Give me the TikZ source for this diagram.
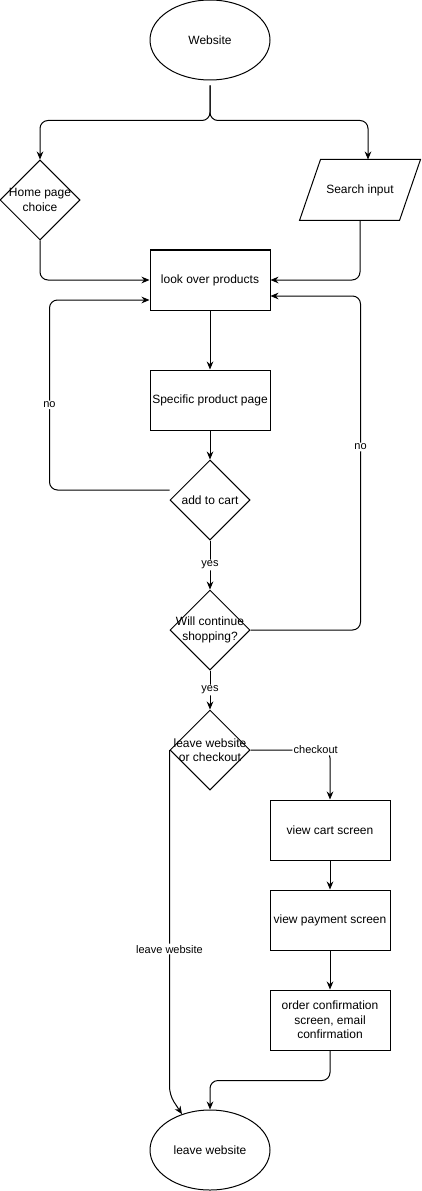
\documentclass[tikz,border=0pt]{standalone}
\usepackage{fontspec}
\setmainfont{Liberation Sans}
\usetikzlibrary{arrows.meta, positioning, shapes, calc}

\begin{document}
\begin{tikzpicture}[
    x=0.75pt, y=-0.75pt,
    line width=0.75pt,
    every node/.style={font=\fontsize{9}{10.8}\selectfont},
    terminal/.style={ellipse, draw=black, minimum width=90pt, minimum height=60pt},
    process/.style={rectangle, draw=black, minimum width=90pt, minimum height=45pt, align=center, inner sep=1pt},
    decision/.style={diamond, draw=black, minimum size=60pt, inner sep=-10pt, align=center},
    inout/.style={rectangle, minimum width=90pt, minimum height=45pt},
    arrow/.style={-{Stealth[length=6pt, width=5pt]}, rounded corners=6pt},
    edgelabel/.style={fill=white, inner sep=1pt, font=\fontsize{8.25}{9.9}\selectfont}
]
\useasboundingbox (0,0) rectangle (421,1191);

% Shapes
\node[terminal] (web) at (210,40) {Website};
\node[decision] (home) at (40,200) {Home page\\choice};
\node[inout] (search) at (360,190) {Search input};
\draw (search.south west) -- ++(100,0) -- (search.north east) -- ++(-100,0) -- cycle;
\node[process] (look) at (210,280) {look over products};
\node[process] (spec) at (210,400) {Specific product page};
\node[decision] (cart) at (210,500) {add to cart};
\node[decision] (cont) at (210,630) {Will continue\\shopping?};
\node[decision] (leave) at (210,750) {leave website\\or checkout};
\node[process] (viewcart) at (330,830) {view cart screen};
\node[process] (pay) at (330,920) {view payment screen};
\node[process] (order) at (330,1020) {order confirmation\\screen, email\\confirmation};
\node[terminal] (exit) at (210,1150) {leave website};

% Entry branches
\draw[arrow, shorten <=3.75pt] (web.south) -- ++(0,40) -| ($(home.north)$);
\draw[arrow, shorten <=3.75pt] (web.south) -- ++(0,40) -| ($(search.north)+(8,0)$);
\draw[arrow] (home.south) |- (look.west);
\draw[arrow] (search.south) |- (look.east);

% Main column
\draw[arrow] (look) -- (spec);
\draw[arrow] (spec) -- (cart);
\draw[arrow] (cart) -- (cont) node[midway, edgelabel] {yes};
\draw[arrow] (cont) -- (leave) node[midway, edgelabel] {yes};

% Loops back to the product list
\draw[arrow] ($(cart.west)+(0,-10)$) -- ++(-120,0) |- ($(look.west)+(0,20)$) node[pos=0.224, edgelabel] {no};
\draw[arrow] (cont.east) -- ++(110,0) |- ($(look.east)+(0,16)$) node[pos=0.274, edgelabel] {no};

% Checkout branch
\draw[arrow] (leave.east) -| (viewcart.north) node[pos=0.41, edgelabel] {checkout};
\draw[arrow] (viewcart) -- (pay);
\draw[arrow] (pay) -- (order);
\draw[arrow] (order.south) -- ++(0,30) -| (exit.north);

% Leaving
\draw[arrow] (leave.west) -- node[pos=0.577, edgelabel] {leave website} ++(0,345) -- (exit.128);

\end{tikzpicture}
\end{document}
